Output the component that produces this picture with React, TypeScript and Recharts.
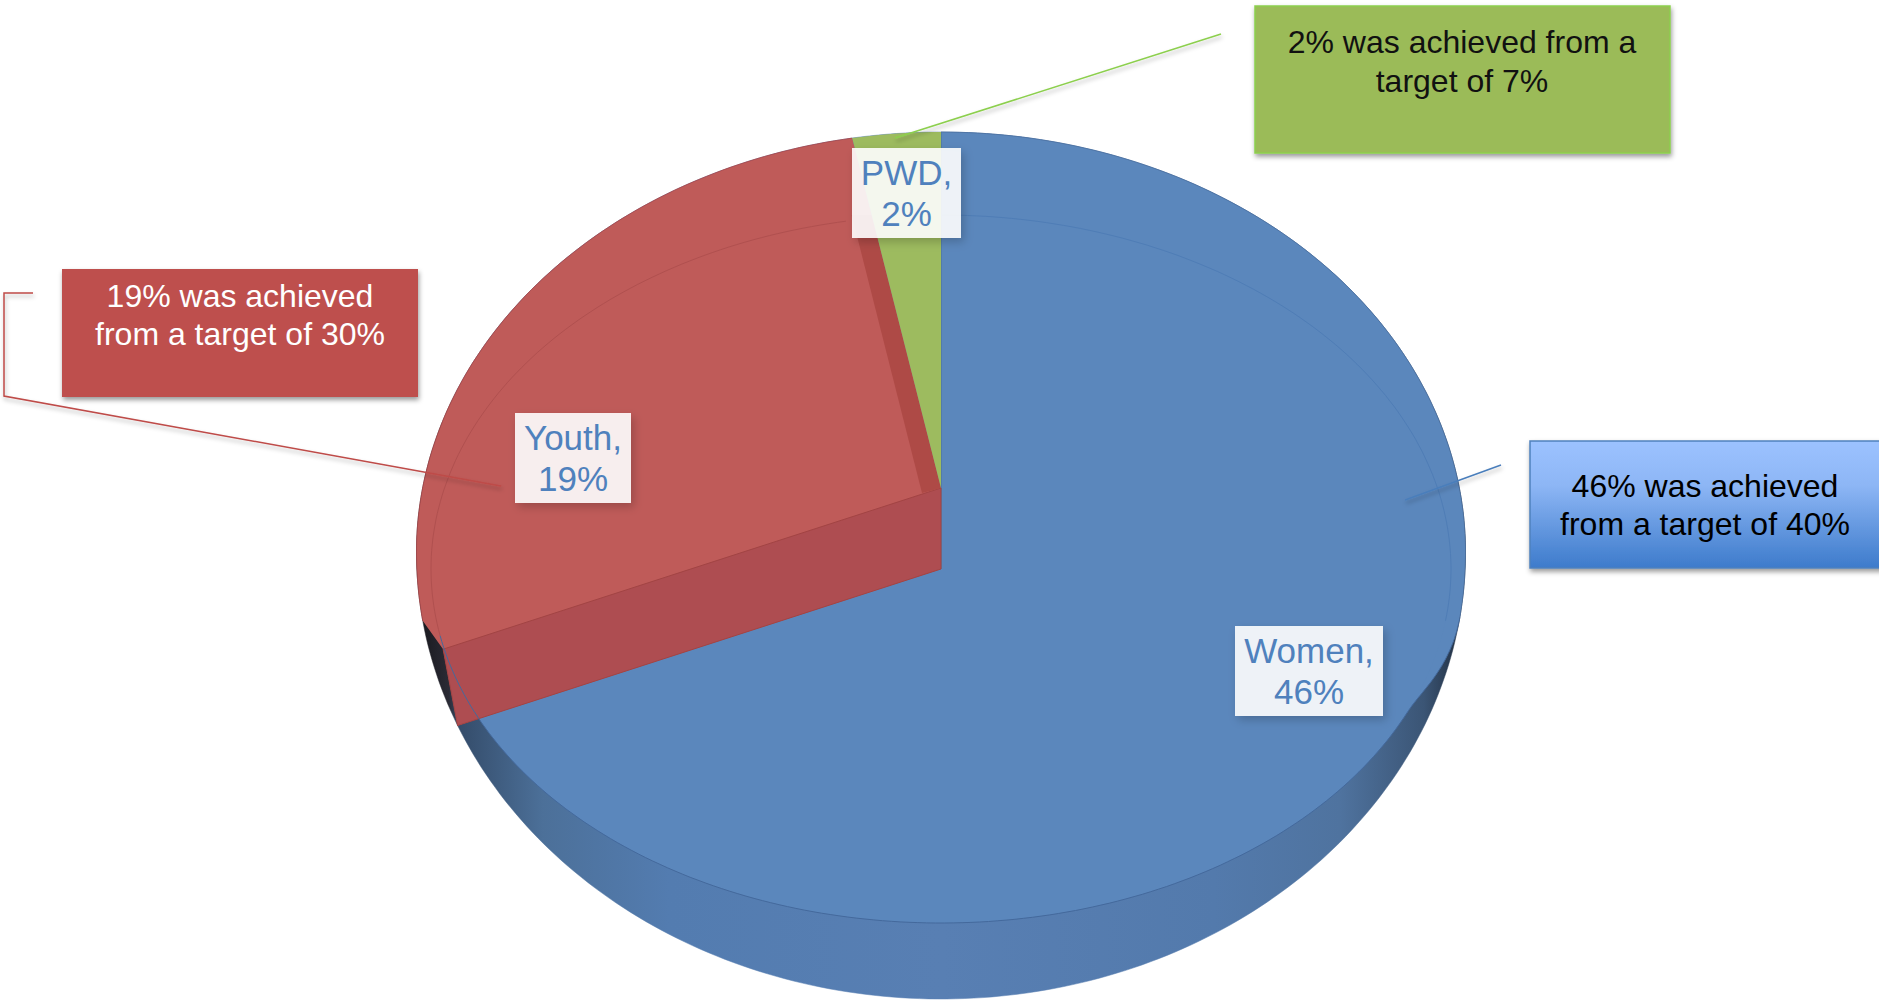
import { Pie, PieChart } from "recharts";

const categories = ["Women", "Youth", "PWD"];
const achieved = [46, 19, 2];
const callouts = [
  ["46% was achieved", "from a target of 40%"],
  ["19% was achieved", "from a target of 30%"],
  ["2% was achieved from a", "target of 7%"],
];

const chartData = categories.map((name, i) => ({ name, value: achieved[i] }));

const FONT = '"Liberation Sans", Arial, sans-serif';
const CX = 941;
const BLUE = "#5B87BC";
const RED = "#BF5B59";
const GREEN = "#9DBB5F";

// vertical geometry of the tilted disc
const OUTER = { cy: 552, top: 420, bottom: 447 };
const TOP_FACE = { cy: 569, top: 354, bottom: 354 };
const RED_APEX_Y = 488;
const FACE_RX_RATIO = 510 / 524.5;
// where the side wall starts to show on the right, clockwise from 12 o'clock
const WALL_START = 98.4;
const WALL_BLEND = 114;

type Ring = { cy: number; top: number; bottom: number };
type Pt = [number, number];

// phi is clockwise from 12 o'clock, in degrees
function ringPoint(ring: Ring, rx: number, phi: number): Pt {
  const a = (phi * Math.PI) / 180;
  const c = Math.cos(a);
  return [CX + rx * Math.sin(a), ring.cy - c * (c > 0 ? ring.top : ring.bottom)];
}

function arcPoints(ring: Ring, rx: number, from: number, to: number): Pt[] {
  const pts: Pt[] = [];
  const steps = Math.max(2, Math.ceil(Math.abs(to - from)));
  for (let i = 0; i <= steps; i++) {
    pts.push(ringPoint(ring, rx, from + ((to - from) * i) / steps));
  }
  return pts;
}

// slides from the outer silhouette onto the top face so the wall opens gradually
function blendPoints(outerRx: number, faceRx: number): Pt[] {
  const pts: Pt[] = [];
  const steps = 32;
  for (let i = 0; i <= steps; i++) {
    const t = i / steps;
    const ease = t * t * (3 - 2 * t);
    const phi = WALL_START + (WALL_BLEND - WALL_START) * t;
    const a = ringPoint(OUTER, outerRx, phi);
    const b = ringPoint(TOP_FACE, faceRx, phi);
    pts.push([a[0] + (b[0] - a[0]) * ease, a[1] + (b[1] - a[1]) * ease]);
  }
  return pts;
}

const toPath = (pts: Pt[], close = true) =>
  pts.map((p, i) => `${i ? "L" : "M"}${p[0].toFixed(1)} ${p[1].toFixed(1)}`).join(" ") + (close ? " Z" : "");

function WallShape(props: any) {
  const { startAngle, endAngle, outerRadius } = props;
  const pts = arcPoints(OUTER, outerRadius, 90 - startAngle, 90 - endAngle);
  return <path d={toPath([[CX, OUTER.cy], ...pts])} fill="url(#wallGradient)" stroke="url(#wallGradient)" strokeWidth={0.5} />;
}

function TopShape(props: any) {
  const { startAngle, endAngle, outerRadius, index } = props;
  const from = 90 - startAngle;
  const to = 90 - endAngle;
  const faceRx = outerRadius * FACE_RX_RATIO;
  const redApex: Pt = [CX, RED_APEX_Y];
  const faceApex: Pt = [CX, TOP_FACE.cy];

  if (index === 0) {
    const back = arcPoints(OUTER, outerRadius, from, WALL_START);
    const face = arcPoints(TOP_FACE, faceRx, from, to);
    return (
      <g>
        <path d={toPath([faceApex, ...back, ...blendPoints(outerRadius, faceRx)])} fill={BLUE} />
        <path d={toPath([faceApex, ...face])} fill={BLUE} />
        <path d={toPath(back, false)} fill="none" stroke="#4A6E9E" strokeWidth={0.8} />
        <path d={toPath([[CX, OUTER.cy - OUTER.top], faceApex], false)} stroke="#4A7396" strokeWidth={1} />
      </g>
    );
  }

  if (index === 1) {
    // back edge sits a touch right of the true angle because of the perspective
    const backEdge = to + 1;
    const rim = arcPoints(OUTER, outerRadius, from + 14, backEdge);
    const lower = ringPoint(OUTER, outerRadius, from);
    const upper: Pt = [CX + (lower[0] - CX) * 1.03, RED_APEX_Y + (lower[1] - TOP_FACE.cy) * 1.03];
    const edge = rim[rim.length - 1];
    const t = 0.78;
    const stripTop: Pt = [CX + (edge[0] - CX) * t, RED_APEX_Y + (edge[1] - RED_APEX_Y) * t];
    return (
      <g>
        <path d={toPath([...rim, redApex, faceApex, lower, upper])} fill={RED} />
        <path d={toPath([upper, lower, faceApex, redApex])} fill="#AE4D51" stroke="#A24444" strokeWidth={1} />
        <path
          d={toPath([redApex, stripTop, [stripTop[0] - 20, stripTop[1]], [CX - 19, RED_APEX_Y + 5]])}
          fill="#AE4A46"
        />
        <path d={toPath(rim, false)} fill="none" stroke="#A8464A" strokeWidth={0.8} />
      </g>
    );
  }

  const pts = arcPoints(OUTER, outerRadius, from + 1, to);
  return <path d={toPath([redApex, ...pts])} fill={GREEN} />;
}

function RimShape(props: any) {
  const { startAngle, endAngle, outerRadius, index } = props;
  const from = 90 - startAngle;
  const to = 90 - endAngle;
  const faceRx = outerRadius * FACE_RX_RATIO;
  if (index === 0) {
    return (
      <g fill="none">
        <path d={toPath(arcPoints(TOP_FACE, faceRx, from, WALL_START), false)} stroke="#4F7DB6" strokeWidth={1} />
        <path d={toPath(blendPoints(outerRadius, faceRx), false)} stroke="#44699C" strokeWidth={1} />
        <path d={toPath(arcPoints(TOP_FACE, faceRx, WALL_BLEND, to + 12), false)} stroke="#44699C" strokeWidth={1} />
      </g>
    );
  }
  if (index === 1) {
    return (
      <path d={toPath(arcPoints(TOP_FACE, faceRx, from + 12, to), false)} fill="none" stroke="#B0504F" strokeWidth={1} />
    );
  }
  return null;
}

const LABEL_BOXES = [
  { x: 1235, y: 626, w: 148, h: 90 },
  { x: 515, y: 413, w: 116, h: 90 },
  { x: 852, y: 148, w: 109, h: 90 },
];

function renderLabel(props: any) {
  const { index, name, value } = props;
  const box = LABEL_BOXES[index];
  const mid = box.x + box.w / 2;
  return (
    <g>
      <rect x={box.x} y={box.y} width={box.w} height={box.h} fill="#fff" fillOpacity={0.89} filter="url(#softShadow)" />
      <text x={mid} y={box.y + 37} textAnchor="middle" fontSize={35} fontFamily={FONT} fill="#4F81BD">
        {name},
      </text>
      <text x={mid} y={box.y + 78} textAnchor="middle" fontSize={35} fontFamily={FONT} fill="#4F81BD">
        {value}%
      </text>
    </g>
  );
}

function Callout(props: { x: number; y: number; w: number; h: number; fill: string; stroke?: string; color: string; lines: string[]; baselines: number[]; mid: number }) {
  const { x, y, w, h, fill, stroke, color, lines, baselines, mid } = props;
  return (
    <g>
      <rect x={x} y={y} width={w} height={h} fill={fill} stroke={stroke} strokeWidth={stroke ? 1.5 : 0} filter="url(#boxShadow)" />
      {lines.map((line, i) => (
        <text key={line} x={mid} y={baselines[i]} textAnchor="middle" fontSize={32} fontFamily={FONT} fill={color}>
          {line}
        </text>
      ))}
    </g>
  );
}

export default function App() {
  const pieProps = {
    data: chartData,
    dataKey: "value",
    nameKey: "name",
    cx: CX,
    cy: OUTER.cy,
    innerRadius: 0,
    outerRadius: 524.5,
    startAngle: 90,
    endAngle: -270,
    stroke: "none",
    isAnimationActive: false,
    labelLine: false,
  };

  return (
    <div style={{ position: "absolute", left: 0, top: 0, width: 1879, height: 1000, overflow: "hidden", background: "#fff" }}>
      <PieChart width={1879} height={1000} margin={{ top: 0, right: 0, bottom: 0, left: 0 }}>
        <defs>
          <linearGradient id="wallGradient" gradientUnits="userSpaceOnUse" x1={417} y1={0} x2={1466} y2={0}>
            <stop offset="0%" stopColor="#17171C" />
            <stop offset="3%" stopColor="#2A2A34" />
            <stop offset="4%" stopColor="#344C6A" />
            <stop offset="12%" stopColor="#4C7099" />
            <stop offset="24%" stopColor="#537CB0" />
            <stop offset="50%" stopColor="#587FB3" />
            <stop offset="76%" stopColor="#537AAC" />
            <stop offset="88%" stopColor="#4F739F" />
            <stop offset="96%" stopColor="#3B5575" />
            <stop offset="100%" stopColor="#1E2A3A" />
          </linearGradient>
          <filter id="softShadow" x="-20%" y="-20%" width="140%" height="140%">
            <feDropShadow dx={3} dy={4} stdDeviation={5} floodColor="#000" floodOpacity={0.22} />
          </filter>
          <filter id="boxShadow" x="-5%" y="-10%" width="110%" height="125%">
            <feDropShadow dx={1} dy={3} stdDeviation={2.5} floodColor="#000" floodOpacity={0.4} />
          </filter>
          <filter id="lineShadow" x="-10%" y="-30%" width="120%" height="170%">
            <feDropShadow dx={1} dy={3} stdDeviation={2} floodColor="#000" floodOpacity={0.3} />
          </filter>
        </defs>
        <Pie {...pieProps} shape={WallShape} />
        <Pie {...pieProps} shape={TopShape} />
        <Pie {...pieProps} shape={RimShape} label={renderLabel} />
      </PieChart>

      <svg width={1879} height={1000} style={{ position: "absolute", left: 0, top: 0, pointerEvents: "none" }}>
        <defs>
          <linearGradient id="blueBox" x1="0" y1="0" x2="0" y2="1">
            <stop offset="0%" stopColor="#9CC2FF" />
            <stop offset="35%" stopColor="#8DB6F5" />
            <stop offset="100%" stopColor="#3D7BCB" />
          </linearGradient>
        </defs>
        <g fill="none" strokeWidth={1.5} filter="url(#lineShadow)">
          <polyline points="1221,34 895,138" stroke="#8CCF4D" />
          <polyline points="33,293 4,293 4,396 501,486" stroke="#BE4B48" />
          <polyline points="1501,465 1405,500" stroke="#4A7EBB" />
        </g>
        <Callout x={1530} y={441} w={360} h={127} fill="url(#blueBox)" stroke="#4F81BD" color="#000" lines={callouts[0]} baselines={[497, 535]} mid={1705} />
        <Callout x={62} y={269} w={356} h={128} fill="#BE504E" color="#fff" lines={callouts[1]} baselines={[307, 345]} mid={240} />
        <Callout x={1255} y={6} w={415} h={147} fill="#9BBB59" stroke="#8CCF4D" color="#111" lines={callouts[2]} baselines={[53, 92]} mid={1462} />
      </svg>
    </div>
  );
}
